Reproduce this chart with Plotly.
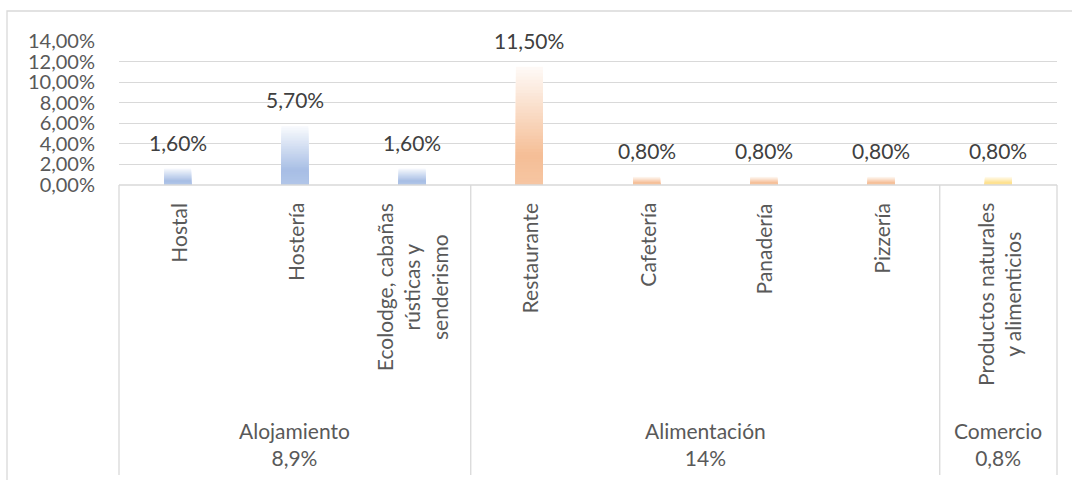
import plotly.graph_objects as go

# ---------------- data ----------------
categories = [
    "Hostal",
    "Hostería",
    "Ecolodge, cabañas<br>rústicas y<br>senderismo",
    "Restaurante",
    "Cafetería",
    "Panadería",
    "Pizzería",
    "Productos naturales<br>y alimenticios",
]
values = [0.016, 0.057, 0.016, 0.115, 0.008, 0.008, 0.008, 0.008]
group_names = ["Alojamiento", "Alimentación", "Comercio"]
group_totals = ["8,9%", "14%", "0,8%"]
group_sizes = [3, 4, 1]
group_colors = [(167, 190, 229), (245, 190, 150), (254, 224, 140)]

# ---------------- layout constants ----------------
W, H = 1072, 480
L, R, T, B = 119, 15, 41, 295
PW, PH = W - L - R, H - T - B
FONT = "Lato"
TXT = "#595959"
LINE = "#d9d9d9"


def py2paper(py):
    return (H - B - py) / PH


def px2paper(px):
    return (px - L) / PW


# colour of each bar, derived from its group
bar_base = []
for g, n in enumerate(group_sizes):
    bar_base += [group_colors[g]] * n


def mix(c, t):
    # t = 0 top (near white), 1 bottom
    stops = [(0.0, 0.93), (0.75, 0.0), (1.0, 0.12)]
    for (t0, w0), (t1, w1) in zip(stops[:-1], stops[1:]):
        if t0 <= t <= t1:
            w = w0 + (w1 - w0) * (t - t0) / (t1 - t0)
            break
    r, g_, b = (round(ch + (255 - ch) * w) for ch in c)
    return f"rgb({r},{g_},{b})"


x = list(range(len(categories)))
fig = go.Figure()

K = 36
for k in range(K):
    frac = 1 - k / K
    t = (k + 0.5) / K
    fig.add_trace(
        go.Bar(
            x=x,
            y=[v * frac for v in values],
            marker=dict(color=[mix(c, t) for c in bar_base], line=dict(width=0)),
            hoverinfo="skip",
            showlegend=False,
        )
    )

annotations = []
# data labels
for i, v in enumerate(values):
    annotations.append(
        dict(
            x=i, y=v, xref="x", yref="y",
            text=f"{v*100:.2f}%".replace(".", ","),
            showarrow=False, yanchor="bottom", yshift=12,
            font=dict(family=FONT, size=21, color="#404040"),
        )
    )
# rotated category labels
for i, c in enumerate(categories):
    annotations.append(
        dict(
            x=i, y=py2paper(201), xref="x", yref="paper",
            text=c, textangle=-90, showarrow=False,
            xanchor="center", yanchor="top", align="center",
            font=dict(family=FONT, size=21, color=TXT),
        )
    )
# group labels
start = 0
sep_idx = [0]
for name, tot, n in zip(group_names, group_totals, group_sizes):
    center = start + (n - 1) / 2
    annotations.append(
        dict(
            x=center, y=py2paper(444), xref="x", yref="paper",
            text=f"{name}<br>{tot}", showarrow=False,
            xanchor="center", yanchor="middle", align="center",
            font=dict(family=FONT, size=21, color=TXT),
        )
    )
    start += n
    sep_idx.append(start)

shapes = []
ncat = len(categories)
for s in sep_idx:
    xp = s / ncat
    shapes.append(
        dict(type="line", xref="paper", yref="paper",
             x0=xp, x1=xp, y0=0, y1=py2paper(475),
             line=dict(color=LINE, width=1.3))
    )
shapes.append(
    dict(type="line", xref="paper", yref="paper",
         x0=0, x1=1, y0=0, y1=0, line=dict(color=LINE, width=1.3))
)
# outer chart border
shapes.append(
    dict(type="rect", xref="paper", yref="paper",
         x0=px2paper(7), x1=px2paper(1075), y0=py2paper(485), y1=py2paper(11),
         line=dict(color=LINE, width=1.3), layer="below")
)

fig.update_layout(
    width=W, height=H,
    margin=dict(l=L, r=R, t=T, b=B),
    paper_bgcolor="white", plot_bgcolor="white",
    barmode="overlay", bargap=0.77,
    separators=",.",
    annotations=annotations, shapes=shapes,
    xaxis=dict(range=[-0.5, ncat - 0.5], showticklabels=False, showgrid=False,
               zeroline=False, showline=False, fixedrange=True),
    yaxis=dict(range=[0, 0.14], dtick=0.02, tickformat=".2%",
               showgrid=True, gridcolor=LINE, gridwidth=1.3,
               zeroline=False, showline=False, ticks="",
               ticklabelstandoff=23,
               tickfont=dict(family=FONT, size=20, color=TXT)),
    font=dict(family=FONT, color=TXT),
)

fig.write_html(
    "out.html",
    config={"displayModeBar": False},
    post_script="document.body.style.margin='0px';document.body.style.overflow='hidden';",
)
